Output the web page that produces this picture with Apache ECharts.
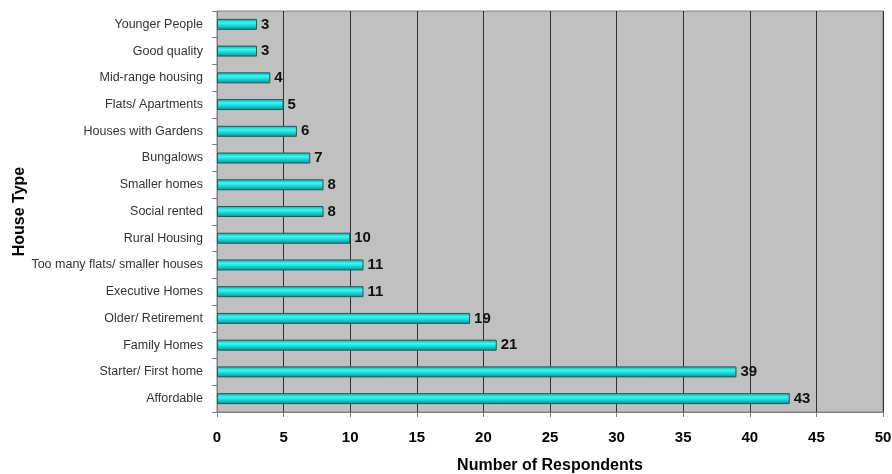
<!DOCTYPE html>
<html><head><meta charset="utf-8">
<script src="https://cdn.jsdelivr.net/npm/echarts@6/dist/echarts.min.js"></script>
<style>html,body{margin:0;padding:0;background:#fff}#c{width:892px;height:474px}</style>
</head><body><div id="c"></div>
<script>
const categories = ["Affordable","Starter/ First home","Family Homes","Older/ Retirement","Executive Homes","Too many flats/ smaller houses","Rural Housing","Social rented","Smaller homes","Bungalows","Houses with Gardens","Flats/ Apartments","Mid-range housing","Good quality","Younger People"];
const values = [43,39,21,19,11,11,10,8,8,7,6,5,4,3,3];
const xTicks = [0,5,10,15,20,25,30,35,40,45,50];

const chart = echarts.init(document.getElementById('c'));
chart.setOption({
  animation:false,
  grid:{left:217,right:9,top:11,bottom:62,containLabel:false,outerBoundsMode:'none',show:true,backgroundColor:'#c0c0c0',borderColor:'#808080',borderWidth:1},
  xAxis:{type:'value',min:xTicks[0],max:xTicks[xTicks.length-1],interval:5,
    name:'Number of Respondents',nameLocation:'middle',nameGap:46,nameMoveOverlap:false,
    nameTextStyle:{fontFamily:'Liberation Sans',fontWeight:'bold',fontSize:16,color:'#000'},
    axisLine:{show:true,lineStyle:{color:'#808080'}},
    axisTick:{show:true,length:5,lineStyle:{color:'#808080'}},
    axisLabel:{fontFamily:'Liberation Sans',fontWeight:'bold',fontSize:15,color:'#000',margin:18},
    splitLine:{show:true,lineStyle:{color:'#000',width:1,opacity:0.75}}
  },
  yAxis:{type:'category',data:categories,
    name:'House Type',nameLocation:'middle',nameGap:189,nameRotate:90,nameMoveOverlap:false,
    nameTextStyle:{fontFamily:'Liberation Sans',fontWeight:'bold',fontSize:16,color:'#000'},
    axisLine:{show:true,lineStyle:{color:'#808080'}},
    axisTick:{show:true,length:5,lineStyle:{color:'#808080'}},
    axisLabel:{fontFamily:'Liberation Sans',fontSize:12.5,color:'#333',margin:14}
  },
  series:[{type:'bar',data:values,barWidth:11,
    itemStyle:{borderColor:'#1f5c5c',borderWidth:1,
      color:new echarts.graphic.LinearGradient(0,0,0,1,[
        {offset:0,color:'#0aa8a8'},{offset:0.35,color:'#40f5f0'},{offset:0.55,color:'#20e0e0'},{offset:1,color:'#0a8c8c'}])},
    label:{show:true,position:'right',distance:4,fontFamily:'Liberation Sans',fontWeight:'bold',fontSize:15,color:'#111'}
  }]
});
</script></body></html>
